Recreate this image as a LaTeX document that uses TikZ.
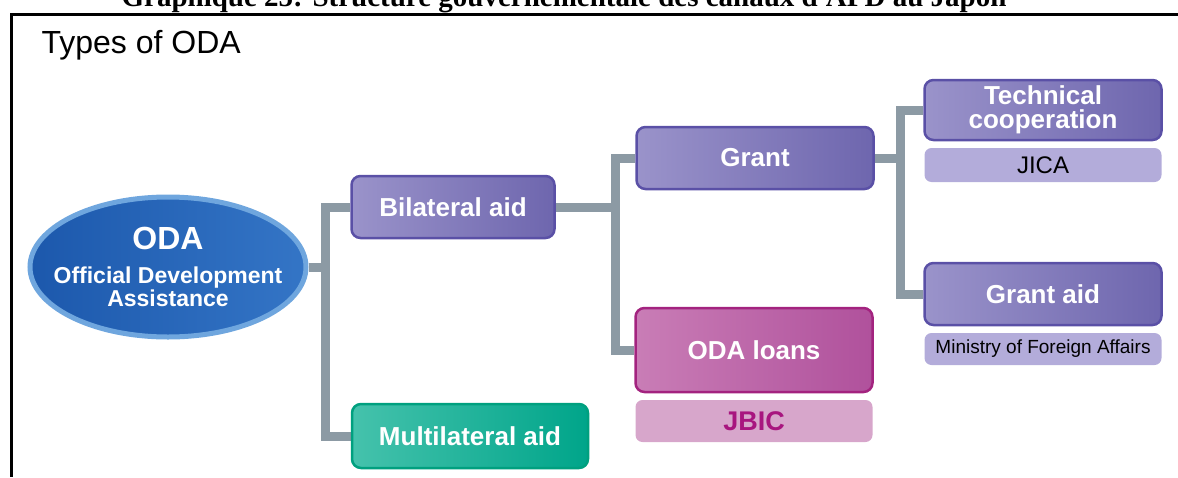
\documentclass[tikz,border=0pt]{standalone}
\usepackage{fontspec}
\setmainfont{Liberation Sans}
\newfontfamily\titlefont{Liberation Serif}
\usetikzlibrary{shapes.geometric,backgrounds}
\definecolor{trunkgray}{HTML}{8C9AA4}
\definecolor{violetlt}{HTML}{9A93CA}
\definecolor{violetdk}{HTML}{6E66AE}
\definecolor{violetedge}{HTML}{5A50A6}
\definecolor{violetpale}{HTML}{B3ACDA}
\definecolor{plumlt}{HTML}{C97DB6}
\definecolor{plumdk}{HTML}{B0519C}
\definecolor{plumedge}{HTML}{A3237F}
\definecolor{plumpale}{HTML}{D7A6CB}
\definecolor{plumtext}{HTML}{A8157F}
\definecolor{teallt}{HTML}{45C2AC}
\definecolor{tealdk}{HTML}{00A58A}
\definecolor{tealedge}{HTML}{00A07F}
\definecolor{odalt}{HTML}{3475C6}
\definecolor{odadk}{HTML}{1C58AC}
\definecolor{odaedge}{HTML}{6FA6DE}
\begin{document}
\begin{tikzpicture}[x=1pt, y=-1pt, line join=miter,
  box/.style={rounded corners=9pt, minimum width=237pt, minimum height=62pt, inner sep=0pt,
    align=center, text=white, font=\bfseries\fontsize{26}{24}\selectfont,
    draw=violetedge, line width=2.5pt, left color=violetlt, right color=violetdk},
  tag/.style={rounded corners=7pt, minimum width=237pt, inner sep=0pt, fill=violetpale,
    text=black, font=\fontsize{24}{24}\selectfont},
  conn/.style={draw=trunkgray, line width=9pt}]
  \useasboundingbox (0,0) rectangle (1178,477);
  % title and frame
  \node[anchor=base, font=\titlefont\bfseries\fontsize{29}{29}\selectfont] (title) at (564,6)
    {Graphique 25: Structure gouvernementale des canaux d'APD au Japon};
  \draw[line width=3pt] (1178,14) -| (11,477);
  \node[anchor=base west, font=\fontsize{32}{32}\selectfont] (types) at (38,53) {Types of ODA};
  % junctions
  \coordinate (j1) at (325,267);
  \coordinate (j2) at (615,207);
  \coordinate (j3) at (900,158);
  % nodes
  \node[ellipse, minimum width=276pt, minimum height=140pt, inner xsep=-20pt, inner ysep=0pt,
    draw=odaedge, line width=5pt, left color=odadk, right color=odalt, text=white,
    align=center, font=\bfseries] (oda) at (168,267)
    {{\fontsize{32}{32}\selectfont ODA}\\[16pt]
     {\fontsize{23}{24}\selectfont Official Development}\\
     {\fontsize{23}{24}\selectfont Assistance}};
  \node[box, minimum width=203pt] (bil) at (453,207) {Bilateral aid};
  \node[box, minimum width=236pt, minimum height=64pt, draw=tealedge, left color=teallt,
    right color=tealdk] (multi) at (470,436) {Multilateral aid};
  \node[box] (grant) at (755,158) {Grant};
  \node[box, minimum height=84pt, draw=plumedge, left color=plumlt, right color=plumdk]
    (loans) at (754,350) {ODA loans};
  \node[tag, minimum height=42pt, fill=plumpale, text=plumtext,
    font=\bfseries\fontsize{27}{27}\selectfont] (jbic) at (754,421) {JBIC};
  \node[box, minimum height=60pt] (tech) at (1043,110) {Technical\\cooperation};
  \node[tag, minimum height=34pt] (jica) at (1043,165) {JICA};
  \node[box] (gaid) at (1043,294) {Grant aid};
  \node[tag, minimum height=32pt, font=\fontsize{19}{19}\selectfont] (mofa) at (1043,349)
    {Ministry of Foreign Affairs};
  % connectors
  \begin{scope}[on background layer]
    \draw[conn] (oda.east) -- (j1);
    \draw[conn] (bil.west) -| (j1) |- (multi.west);
    \draw[conn] (bil.east) -- (j2);
    \draw[conn] (grant.west) -| (j2) |- (loans.west);
    \draw[conn] (grant.east) -- (j3);
    \draw[conn] (tech.west) -| (j3) |- (gaid.west);
  \end{scope}
\end{tikzpicture}
\end{document}
